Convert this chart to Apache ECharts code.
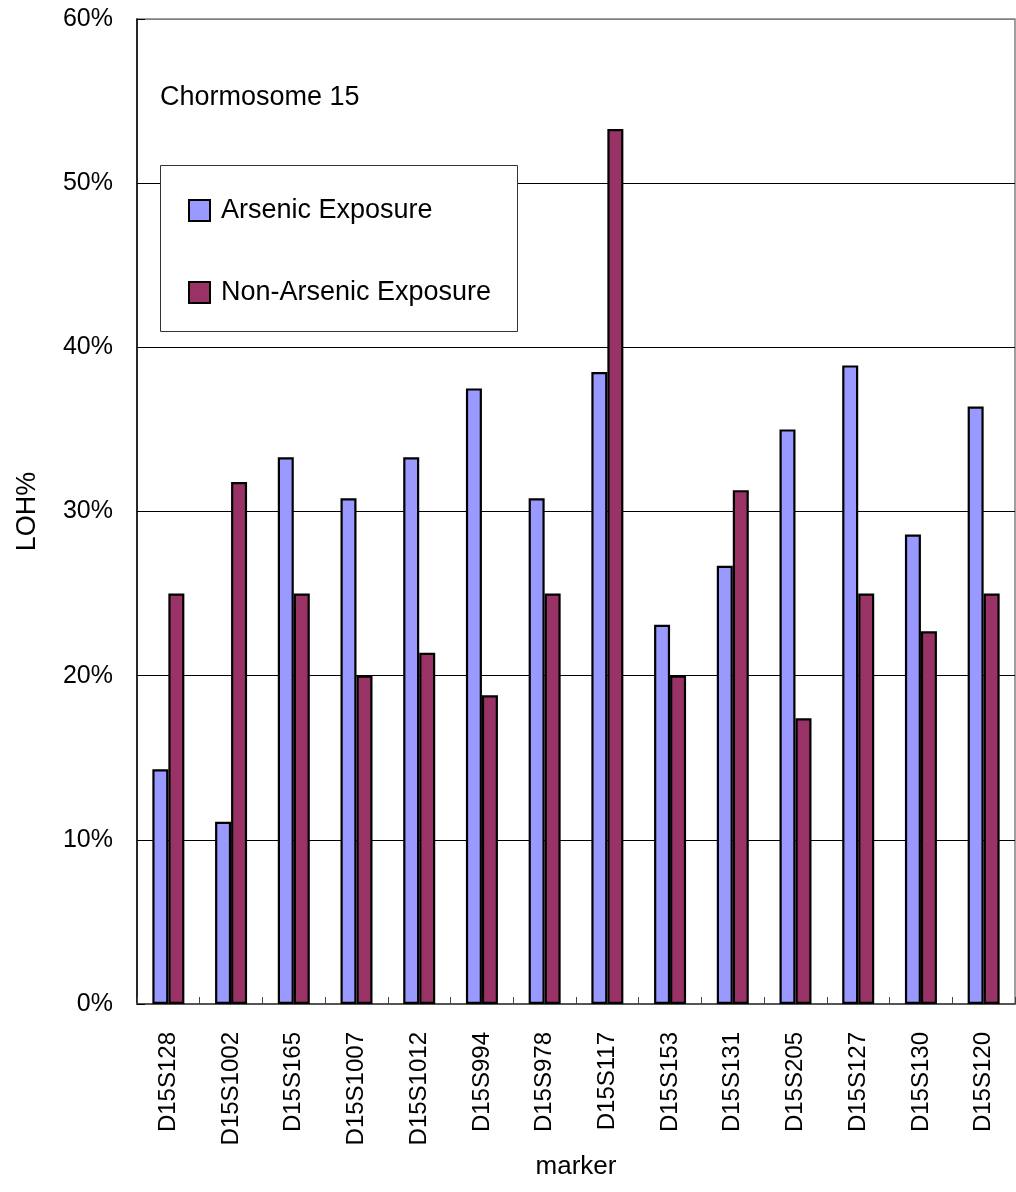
<!DOCTYPE html>
<html>
<head>
<meta charset="utf-8">
<script src="https://cdn.jsdelivr.net/npm/echarts@6/dist/echarts.min.js"></script>
<style>
  html, body { margin: 0; padding: 0; background: #fff; }
  #chart { width: 1016px; height: 1192px; }
</style>
</head>
<body>
<div id="chart"></div>
<script>
// Loss of heterozygosity per marker on chromosome 15
const markers = ['D15S128', 'D15S1002', 'D15S165', 'D15S1007', 'D15S1012', 'D15S994', 'D15S978',
                 'D15S117', 'D15S153', 'D15S131', 'D15S205', 'D15S127', 'D15S130', 'D15S120'];
const arsenic    = [14.3, 11.1, 33.3, 30.8, 33.3, 37.5, 30.8, 38.5, 23.1, 26.7, 35.0, 38.9, 28.6, 36.4];
const nonArsenic = [25.0, 31.8, 25.0, 20.0, 21.4, 18.8, 25.0, 53.3, 20.0, 31.3, 17.4, 25.0, 22.7, 25.0];
const seriesNames = ['Arsenic Exposure', 'Non-Arsenic Exposure'];
const yTicks = [0, 10, 20, 30, 40, 50, 60];

const FONT = "'Liberation Sans', Arial, sans-serif";

const chart = echarts.init(document.getElementById('chart'), null, { renderer: 'canvas' });

chart.setOption({
  backgroundColor: '#fff',
  animation: false,
  textStyle: { fontFamily: FONT, color: '#000' },
  grid: {
    left: 137, right: 1, top: 19, bottom: 188,
    containLabel: false, outerBoundsMode: 'none',
    show: true, borderColor: '#808080', borderWidth: 1.5, backgroundColor: '#fff'
  },
  legend: {
    data: seriesNames,
    orient: 'vertical',
    left: 188, top: 197,
    z: 20,
    icon: 'rect',
    itemWidth: 21, itemHeight: 21, itemGap: 55,
    padding: 0,
    textStyle: { fontFamily: FONT, fontSize: 27, color: '#000', padding: [0, 0, 0, 6] }
  },
  graphic: [
    {
      type: 'rect', z: 3,
      shape: { x: 160.5, y: 165.5, width: 357, height: 166 },
      style: { fill: '#fff', stroke: '#333', lineWidth: 1 }
    },
    {
      type: 'text', z: 20, left: 160, top: 84,
      style: { text: 'Chormosome 15', font: '27px ' + FONT, fill: '#000' }
    }
  ],
  xAxis: {
    type: 'category',
    data: markers,
    name: 'marker',
    nameLocation: 'middle',
    nameGap: 150,
    nameTextStyle: { fontSize: 26, fontFamily: FONT, color: '#000' },
    axisLine: { lineStyle: { color: '#555', width: 2 } },
    axisTick: { show: true, inside: true, length: 7, lineStyle: { color: '#444', width: 1 } },
    axisLabel: { rotate: 90, margin: 28, fontSize: 24, fontFamily: FONT, color: '#000' }
  },
  yAxis: {
    type: 'value',
    min: 0, max: 60, interval: 10,
    name: 'LOH%',
    nameLocation: 'middle',
    nameGap: 96,
    nameTextStyle: { fontSize: 27, fontFamily: FONT, color: '#000' },
    axisLine: { show: true, lineStyle: { color: '#000', width: 1.5 } },
    axisTick: { show: true, inside: true, length: 8, lineStyle: { color: '#000' } },
    axisLabel: {
      margin: 24, fontSize: 25, fontFamily: FONT, color: '#000',
      formatter: v => yTicks.includes(v) ? v + '%' : ''
    },
    splitLine: {
      show: true,
      lineStyle: { color: ['#000', '#000', '#000', '#000', '#000', '#000', '#808080'], width: 1 }
    }
  },
  series: [
    {
      name: seriesNames[0], type: 'bar', data: arsenic,
      barWidth: 16, barGap: '0%',
      itemStyle: { color: '#9999FF', borderColor: '#000', borderWidth: 2.2 }
    },
    {
      name: seriesNames[1], type: 'bar', data: nonArsenic,
      barWidth: 16, barGap: '0%',
      itemStyle: { color: '#993366', borderColor: '#000', borderWidth: 2.2 }
    }
  ]
});
</script>
</body>
</html>
